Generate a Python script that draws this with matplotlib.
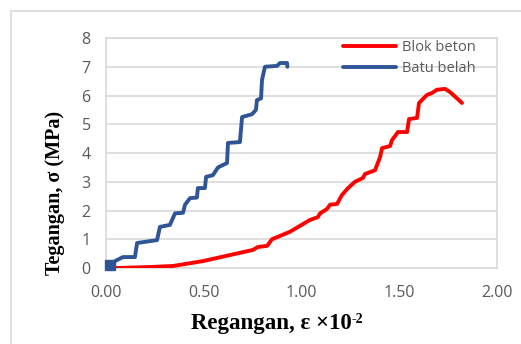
import matplotlib.pyplot as plt
from matplotlib.patches import Rectangle

# Batu belah (blue)
batu_x = [0.0, 0.005, 0.02, 0.046, 0.087, 0.148, 0.159, 0.261, 0.276, 0.327, 0.353,
          0.394, 0.404, 0.43, 0.465, 0.47, 0.506, 0.512, 0.547, 0.573, 0.619, 0.624,
          0.685, 0.696, 0.747, 0.767, 0.772, 0.793, 0.798, 0.813, 0.875, 0.89, 0.926, 0.928]
batu_y = [0.0, 0.05, 0.1, 0.24, 0.38, 0.38, 0.87, 0.97, 1.43, 1.5, 1.9,
          1.92, 2.2, 2.43, 2.45, 2.78, 2.78, 3.17, 3.23, 3.5, 3.65, 4.35,
          4.38, 5.25, 5.35, 5.5, 5.84, 5.9, 6.54, 7.0, 7.03, 7.13, 7.13, 7.0]

# Blok beton (red)
blok_x = [0.0, 0.056, 0.21, 0.343, 0.496, 0.634, 0.752, 0.777, 0.824, 0.849, 0.941,
          1.043, 1.084, 1.095, 1.13, 1.146, 1.182, 1.207, 1.238, 1.274, 1.314, 1.325,
          1.376, 1.402, 1.412, 1.453, 1.463, 1.494, 1.54, 1.55, 1.591, 1.601, 1.642,
          1.668, 1.693, 1.734, 1.76, 1.821]
blok_y = [0.0, 0.0, 0.03, 0.07, 0.24, 0.45, 0.63, 0.73, 0.77, 1.0, 1.26,
          1.67, 1.77, 1.9, 2.05, 2.2, 2.23, 2.54, 2.78, 3.0, 3.13, 3.27,
          3.4, 3.86, 4.17, 4.24, 4.45, 4.73, 4.73, 5.18, 5.22, 5.74, 6.02,
          6.09, 6.2, 6.23, 6.12, 5.74]

xticks = [0.0, 0.5, 1.0, 1.5, 2.0]
yticks = [0, 1, 2, 3, 4, 5, 6, 7, 8]

grey = '#595959'
fig = plt.figure(figsize=(5.21, 3.44), dpi=100)
fig.patches.append(Rectangle((11 / 521, -0.1), 1.2, 1 - 11 / 344 + 0.1,
                             transform=fig.transFigure, fill=False,
                             edgecolor='#d9d9d9', linewidth=1.2))

ax = fig.add_axes([106 / 521, 1 - 268 / 344, 391 / 521, 230 / 344])
ax.plot(blok_x, blok_y, color='#ff0000', linewidth=2.8, label='Blok beton',
        solid_joinstyle='round', solid_capstyle='round', zorder=3)
ax.plot(batu_x, batu_y, color='#2f5597', linewidth=2.8, label='Batu belah',
        solid_joinstyle='round', solid_capstyle='round', zorder=4)
# dense cluster of readings at the start shows up as a small block
ax.plot(batu_x[2:3], batu_y[2:3], marker='s', markersize=7.5, color='#2f5597',
        linestyle='none', zorder=5, clip_on=False)

ax.set_xlim(0, 2)
ax.set_ylim(0, 8)
ax.set_xticks(xticks)
ax.set_xticklabels(['%.2f' % v for v in xticks])
ax.set_yticks(yticks)
ax.grid(axis='y', color='#d9d9d9', linewidth=1.2)
ax.set_axisbelow(True)
for s in ax.spines.values():
    s.set_color('#d9d9d9')
    s.set_linewidth(1.2)
ax.tick_params(length=0, labelsize=11.5, labelcolor=grey)
ax.tick_params(axis='x', pad=12)
ax.tick_params(axis='y', pad=11)
for lab in ax.get_xticklabels() + ax.get_yticklabels():
    lab.set_family('Open Sans')

ax.set_xlabel('Regangan, ε ×10', family='Liberation Serif',
              fontweight='bold', fontsize=16.5)
ax.xaxis.set_label_coords(0.422, -0.195)
ax.annotate('-2', xy=(1.0, 0.98), xycoords=ax.xaxis.label, ha='left', va='top',
            family='Liberation Serif', fontweight='bold', fontsize=10)
ax.set_ylabel('Tegangan, σ (MPa)', family='Liberation Serif',
              fontweight='bold', fontsize=14.5)
ax.yaxis.set_label_coords(-0.105, 0.325)

leg = ax.legend(loc='upper right', bbox_to_anchor=(0.967, 1.03), frameon=False,
                fontsize=10.5, handlelength=3.6, handletextpad=0.4,
                labelspacing=0.45, borderaxespad=0.2)
for t in leg.get_texts():
    t.set_color(grey)
    t.set_family('Open Sans')

fig.savefig('out.png', dpi=100)
